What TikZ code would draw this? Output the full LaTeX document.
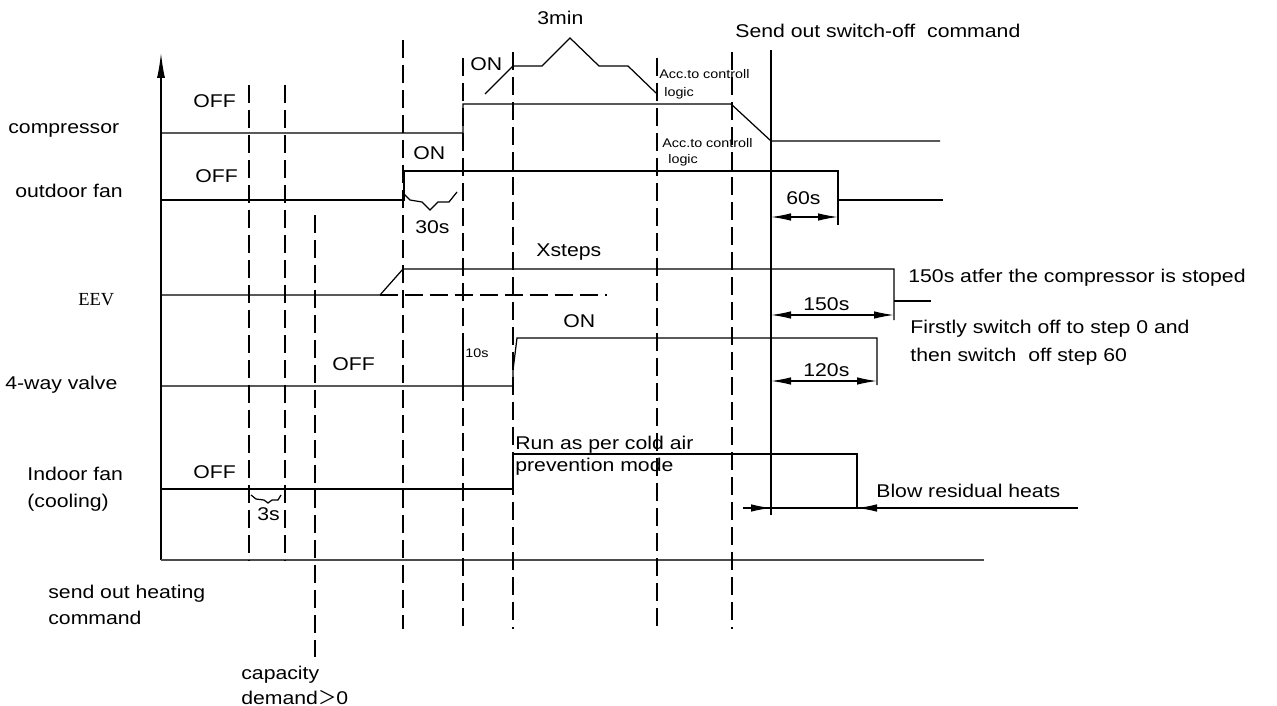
\documentclass[tikz,border=0pt]{standalone}
\usepackage{fontspec}
\setmainfont{Liberation Sans}[FakeStretch=1.15]
\newfontfamily\eevfont{Liberation Serif}
\newfontfamily\cjkfont{Noto Sans CJK SC}
\usetikzlibrary{arrows.meta}
\begin{document}
\begin{tikzpicture}[x=0.02cm,y=-0.02cm,
  sig/.style={line width=0.7pt},
  dsh/.style={line width=0.7pt, dash pattern=on 0.36cm off 0.14cm},
  lbl/.style={font=\fontsize{10.5}{12}\selectfont, inner sep=0pt, anchor=base west},
  sml/.style={font=\fontsize{7.1}{8}\selectfont, inner sep=0pt, anchor=base west},
  dimarr/.style={line width=0.7pt, {Latex[length=0.4cm,width=0.15cm]}-{Latex[length=0.4cm,width=0.15cm]}},
  onearr/.style={line width=0.7pt, -{Latex[length=0.4cm,width=0.15cm]}},
]
\useasboundingbox (0,0) rectangle (1277,706);

% axes
\coordinate (o) at (161,560);
\coordinate (ytop) at (161,53);
\coordinate (xend) at (984,560);
\draw[sig, -{Latex[length=0.5cm,width=0.16cm]}] (o) -- (ytop);
\draw[sig, black!70] (o) -- (xend);

% vertical reference lines
\foreach \n/\x/\a/\b in {d1/249/85/560, d2/285/85/560, d3/315/215/657, d4/403/40/629, d5/463/58/629, d6/513/52/629, d7/657/58/629, d8/732/52/629}{
  \coordinate (\n t) at (\x,\a);
  \coordinate (\n b) at (\x,\b);
  \draw[dsh] (\n t) -- (\n b);
}
\coordinate (st) at (771,50);
\coordinate (sb) at (771,515);
\draw[sig] (st) -- (sb);

% compressor
\draw[sig] (161,133) -- (463,133) -- (463,104) -- (731,104) -- (771,141) -- (940,141);
\draw[sig] (485,94) -- (513,66) -- (542,66) -- (570,38) -- (599,66) -- (628,66) -- (656,93);

% outdoor fan
\draw[sig] (161,200) -- (404,200) -- (404,171) -- (838,171) -- (838,200) -- (943,200);
\draw[line width=1.4pt] (404,199) -- (404,172);
\draw[sig] (404,194) -- (410,200) -- (422,202) -- (430,210) -- (438,202) -- (449,202) -- (457,192);
\coordinate (a60l) at (771,217);
\coordinate (a60r) at (838,217);
\draw[sig] (838,200) -- (838,225);
\draw[dimarr] (a60l) -- (a60r);

% EEV
\draw[sig] (161,295) -- (380,295) -- (403,269) -- (894,269) -- (894,320);
\draw[dsh] (380,295) -- (607,295);
\draw[sig] (894,301) -- (931,301);
\coordinate (a150l) at (771,315);
\coordinate (a150r) at (894,315);
\draw[dimarr] (a150l) -- (a150r);

% 4-way valve
\draw[sig] (161,386) -- (513,386) -- (513,370) -- (517,338) -- (877,338) -- (877,385);
\draw[sig] (463,337) -- (463,386);
\coordinate (a120l) at (771,381);
\coordinate (a120r) at (877,381);
\draw[dimarr] (a120l) -- (a120r);

% indoor fan
\draw[sig] (161,489) -- (513,489) -- (513,454) -- (857,454) -- (857,508);
\draw[sig] (251,495) -- (256,499) -- (264,500) -- (268,503) -- (272,500) -- (278,500) -- (281,495);
\coordinate (bl) at (743,508);
\coordinate (bm) at (771,508);
\coordinate (bn) at (857,508);
\coordinate (br) at (1078,508);
\draw[sig] (bl) -- (br);
\draw[onearr] (bl) -- (bm);
\draw[onearr] (877,508) -- (bn);

% left labels
\node[lbl] (lcomp) at (8,133) {compressor};
\node[lbl] (lout) at (15,197) {outdoor fan};
\node[lbl, font=\eevfont\fontsize{10.5}{12}\selectfont] (leev) at (78,305) {EEV};
\node[lbl] (l4w) at (5,389) {4-way valve};
\node[lbl] (lin1) at (27,480) {Indoor fan};
\node[lbl] (lin2) at (27,507) {(cooling)};
\node[lbl] (lsend1) at (48,598) {send out heating};
\node[lbl] (lsend2) at (48,624) {command};
\node[lbl] (lcap1) at (241,679) {capacity};
\node[lbl] (lcap2) at (241,704) {demand{\cjkfont ＞}0};

% state labels
\node[lbl] (off1) at (193,108) {OFF};
\node[lbl] (off2) at (195,182) {OFF};
\node[lbl] (off3) at (332,370) {OFF};
\node[lbl] (off4) at (193,478) {OFF};
\node[lbl] (on1) at (470,71) {ON};
\node[lbl] (on2) at (413,159) {ON};
\node[lbl] (on3) at (563,327) {ON};
\node[lbl] (t3min) at (537,25) {3min};
\node[lbl] (tsend) at (735,38) {Send out switch-off~ command};
\node[sml] (acc1) at (659,79) {Acc.to controll};
\node[sml] (log1) at (664,96) {logic};
\node[sml] (acc2) at (662,147) {Acc.to controll};
\node[sml] (log2) at (668,163) {logic};
\node[lbl] (t30) at (415,233) {30s};
\node[lbl] (t60) at (786,204) {60s};
\node[lbl] (xst) at (536,256) {Xsteps};
\node[lbl] (t150a) at (908,282) {150s atfer the compressor is stoped};
\node[lbl] (t150) at (803,310) {150s};
\node[lbl] (tfirst1) at (910,333) {Firstly switch off to step 0 and};
\node[lbl] (tfirst2) at (910,361) {then switch~ off step 60};
\node[sml] (t10) at (465,357) {10s};
\node[lbl] (t120) at (803,376) {120s};
\node[lbl] (trun1) at (515,449) {Run as per cold air};
\node[lbl] (trun2) at (515,471) {prevention mode};
\node[lbl] (t3s) at (257,520) {3s};
\node[lbl] (tblow) at (876,497) {Blow residual heats};
\end{tikzpicture}
\end{document}
